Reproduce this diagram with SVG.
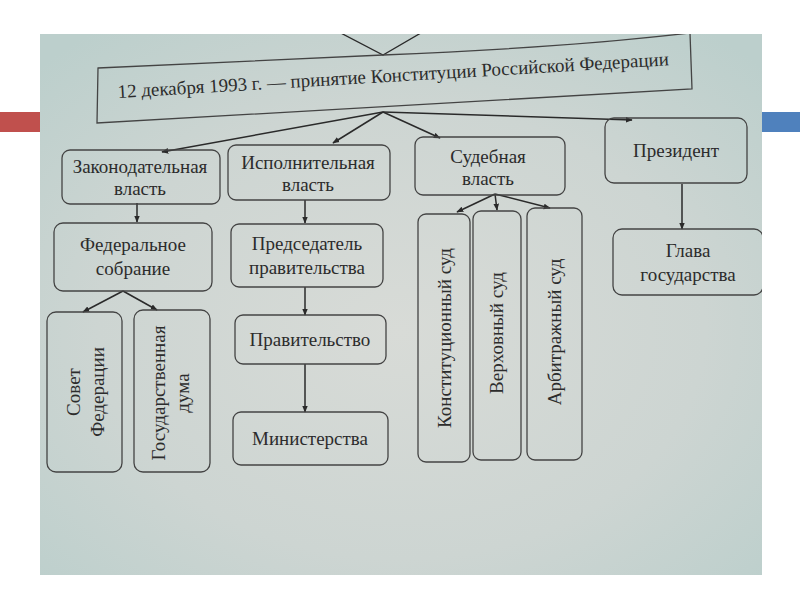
<svg xmlns="http://www.w3.org/2000/svg" width="800" height="600" viewBox="0 0 800 600">
<defs>
<radialGradient id="paper" cx="50%" cy="55%" r="70%">
<stop offset="0" stop-color="#d8dbd7"/>
<stop offset="0.6" stop-color="#cdd5d2"/>
<stop offset="1" stop-color="#bccfcc"/>
</radialGradient>
<clipPath id="photo"><rect x="40" y="34" width="722" height="541"/></clipPath>
<marker id="ah" viewBox="0 0 10 10" refX="9" refY="5" markerWidth="7" markerHeight="7" orient="auto" markerUnits="userSpaceOnUse">
<path d="M0,1 L10,5 L0,9 Z" fill="#2a2a2a"/>
</marker>
<style>
.box{fill:none;stroke:#444;stroke-width:1.3}
.t{font-family:"Liberation Serif","DejaVu Serif",serif;font-size:19px;fill:#2c2c2c;text-anchor:middle}
.c{fill:none;stroke:#2a2a2a;stroke-width:1.5;marker-end:url(#ah)}
.l{fill:none;stroke:#2a2a2a;stroke-width:1.3}
</style>
</defs>
<rect width="800" height="600" fill="#ffffff"/>
<rect x="0" y="112" width="40" height="20" fill="#c0504d"/>
<rect x="762" y="112" width="38" height="20" fill="#4f81bd"/>
<rect x="40" y="34" width="722" height="541" fill="url(#paper)"/>
<g clip-path="url(#photo)">
<g id="top">
<path class="l" d="M335,30 L383,55 L426,30"/>
<path class="box" d="M98,68 L383,55 Q560,48 690,33 L692,89 L97,123 Z"/>
<text class="t" x="118" y="98" textLength="552" lengthAdjust="spacingAndGlyphs" style="text-anchor:start" transform="rotate(-3.4 118 98)">12 декабря 1993 г. — принятие Конституции Российской Федерации</text>
</g>
<g id="connectors">
<path class="c" d="M383,112 L162,152"/>
<path class="c" d="M383,112 L333,143"/>
<path class="c" d="M383,112 L440,138"/>
<path class="c" d="M383,112 L632,120"/>
<path class="c" d="M137,203 L137,222"/>
<path class="c" d="M305,200 L305,223"/>
<path class="c" d="M495,194 L457,212"/>
<path class="c" d="M495,194 L497,210"/>
<path class="c" d="M495,194 L550,208"/>
<path class="c" d="M682,184 L682,229"/>
<path class="c" d="M123,291 L83,312"/>
<path class="c" d="M123,291 L157,310"/>
<path class="c" d="M305,287 L305,315"/>
<path class="c" d="M305,364 L305,412"/>
</g>
<g id="zakon">
<rect class="box" x="62" y="150" width="158" height="54" rx="8"/>
<text class="t" x="140" y="173">Законодательная</text>
<text class="t" x="140" y="195">власть</text>
</g>
<g id="ispoln">
<rect class="box" x="228" y="145" width="162" height="55" rx="8"/>
<text class="t" x="308" y="169">Исполнительная</text>
<text class="t" x="308" y="191">власть</text>
</g>
<g id="sud">
<rect class="box" x="415" y="137" width="150" height="58" rx="8"/>
<text class="t" x="488" y="163">Судебная</text>
<text class="t" x="488" y="185">власть</text>
</g>
<g id="president">
<rect class="box" x="605" y="118" width="142" height="65" rx="9"/>
<text class="t" x="676" y="157">Президент</text>
</g>
<g id="fedsob">
<rect class="box" x="54" y="223" width="158" height="68" rx="9"/>
<text class="t" x="133" y="251">Федеральное</text>
<text class="t" x="133" y="275">собрание</text>
</g>
<g id="predsed">
<rect class="box" x="231" y="224" width="152" height="63" rx="8"/>
<text class="t" x="307" y="250">Председатель</text>
<text class="t" x="307" y="274">правительства</text>
</g>
<g id="glava">
<rect class="box" x="613" y="229" width="150" height="66" rx="9"/>
<text class="t" x="688" y="257">Глава</text>
<text class="t" x="688" y="281">государства</text>
</g>
<g id="sovet">
<rect class="box" x="47" y="312" width="75" height="160" rx="9"/>
<text class="t" transform="translate(80 392) rotate(-90)">Совет</text>
<text class="t" transform="translate(104 392) rotate(-90)">Федерации</text>
</g>
<g id="gosduma">
<rect class="box" x="134" y="310" width="76" height="162" rx="9"/>
<text class="t" transform="translate(165 393) rotate(-90)">Государственная</text>
<text class="t" transform="translate(189 393) rotate(-90)">дума</text>
</g>
<g id="pravit">
<rect class="box" x="235" y="315" width="151" height="49" rx="8"/>
<text class="t" x="310" y="346">Правительство</text>
</g>
<g id="minist">
<rect class="box" x="233" y="412" width="155" height="53" rx="8"/>
<text class="t" x="310" y="445">Министерства</text>
</g>
<g id="konst">
<rect class="box" x="418" y="214" width="52" height="248" rx="8"/>
<text class="t" transform="translate(451 338) rotate(-90)">Конституционный суд</text>
</g>
<g id="verh">
<rect class="box" x="473" y="211" width="48" height="249" rx="8"/>
<text class="t" transform="translate(503 333) rotate(-90)">Верховный суд</text>
</g>
<g id="arbitr">
<rect class="box" x="527" y="208" width="55" height="252" rx="8"/>
<text class="t" transform="translate(561 332) rotate(-90)">Арбитражный суд</text>
</g>
</g>
</svg>
